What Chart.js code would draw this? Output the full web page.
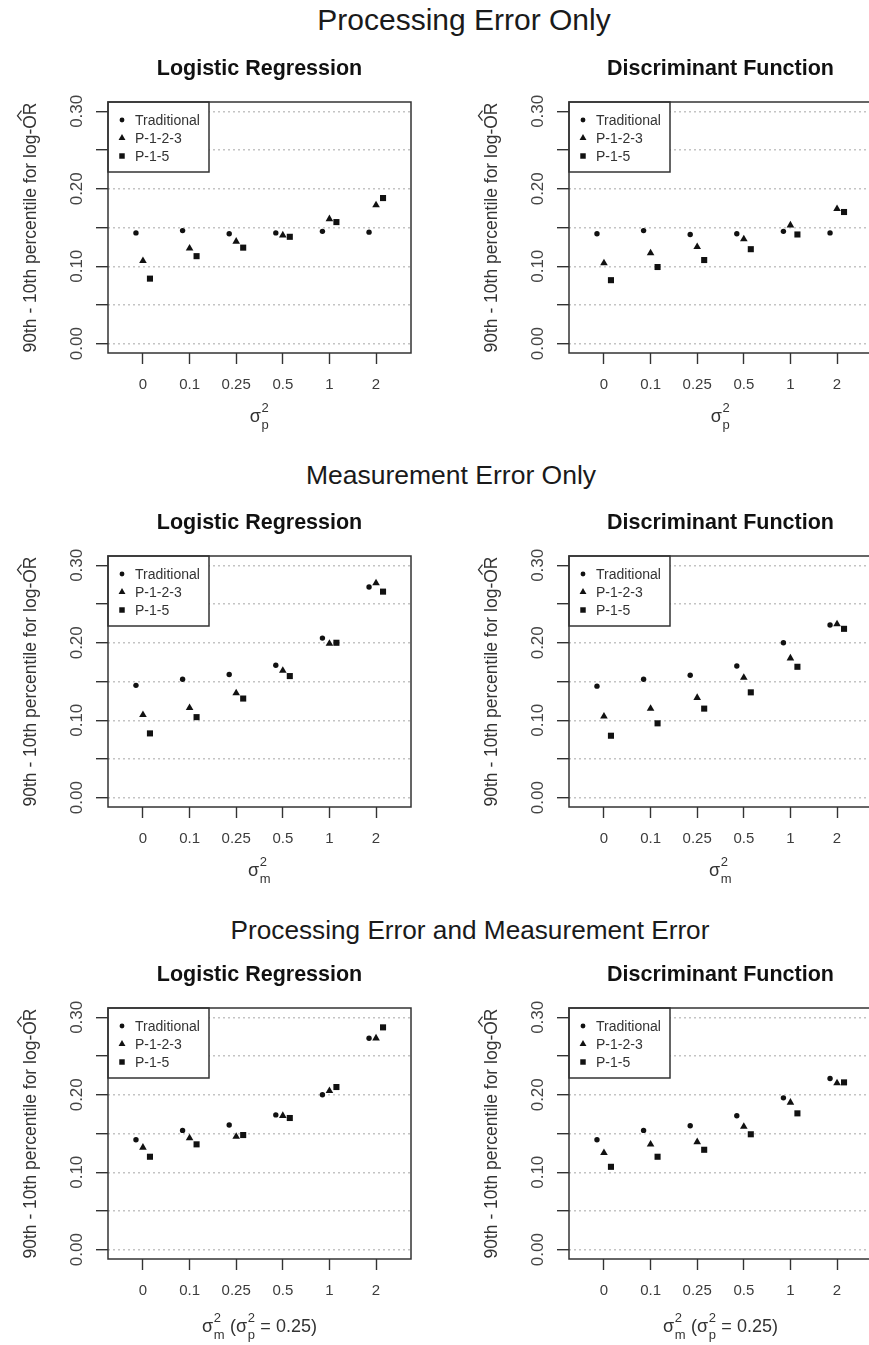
<!DOCTYPE html>
<html>
<head>
<meta charset="utf-8">
<script src="https://cdn.jsdelivr.net/npm/chart.js@4/dist/chart.umd.min.js"></script>
<style>
    html, body {margin: 0; padding: 0; background: #fff;}
    body {width: 869px; height: 1345px; overflow: hidden; position: relative;
        font-family: "Liberation Sans", Arial, Helvetica, sans-serif;}
    .rowtitle {position: absolute; line-height: 1; color: #1a1a1a;
        white-space: nowrap; transform: translateX(-50%);}
    canvas {position: absolute;}
</style>
</head>
<body>
<div class="rowtitle" style="left:464px; top:5px; font-size:30px">Processing Error Only</div>
<div class="rowtitle" style="left:451px; top:462px; font-size:26.5px">Measurement Error Only</div>
<div class="rowtitle" style="left:470px; top:917px; font-size:26.2px">Processing Error and Measurement Error</div>

<script>
const categories = ['0', '0.1', '0.25', '0.5', '1', '2'];
const methods = ['Traditional', 'P-1-2-3', 'P-1-5'];
const yTicks = [0, 0.05, 0.10, 0.15, 0.20, 0.25, 0.30];
const yLabels = ['0.00', '', '0.10', '', '0.20', '', '0.30'];

// processing error only
const peLogTrad = [0.143, 0.146, 0.142, 0.143, 0.145, 0.144];
const peLogP123 = [0.107, 0.123, 0.132, 0.140, 0.161, 0.179];
const peLogP15 = [0.084, 0.113, 0.124, 0.138, 0.157, 0.188];
const peDisTrad = [0.142, 0.146, 0.141, 0.142, 0.145, 0.143];
const peDisP123 = [0.104, 0.117, 0.125, 0.135, 0.153, 0.174];
const peDisP15 = [0.082, 0.099, 0.108, 0.122, 0.141, 0.170];

// measurement error only
const meLogTrad = [0.145, 0.153, 0.159, 0.171, 0.206, 0.272];
const meLogP123 = [0.107, 0.116, 0.135, 0.164, 0.199, 0.277];
const meLogP15 = [0.083, 0.104, 0.128, 0.157, 0.200, 0.266];
const meDisTrad = [0.144, 0.153, 0.158, 0.170, 0.200, 0.223];
const meDisP123 = [0.105, 0.115, 0.129, 0.155, 0.180, 0.224];
const meDisP15 = [0.080, 0.096, 0.115, 0.136, 0.169, 0.218];

// processing + measurement error
const bothLogTrad = [0.142, 0.154, 0.161, 0.174, 0.200, 0.273];
const bothLogP123 = [0.132, 0.144, 0.146, 0.173, 0.205, 0.273];
const bothLogP15 = [0.120, 0.136, 0.148, 0.170, 0.210, 0.287];
const bothDisTrad = [0.142, 0.154, 0.160, 0.173, 0.196, 0.221];
const bothDisP123 = [0.125, 0.136, 0.139, 0.159, 0.190, 0.215];
const bothDisP15 = [0.107, 0.120, 0.129, 0.149, 0.176, 0.216];

const FONT = '"Liberation Sans", Arial, Helvetica, sans-serif';
const PAD_L = 108, PAD_T = 60, PLOT_W = 303, PLOT_H = 251, PAD_R = 20, PAD_B = 85;

const markers = [
    {style: 'circle', r: 2.7},
    {style: 'triangle', r: 4.4},
    {style: 'rect', r: 4.3}
];
const xShift = [-0.15, 0, 0.15];

const panels = [
    {left: 108, top: 102, title: 'Logistic Regression', series: [peLogTrad, peLogP123, peLogP15], xlab: 'p'},
    {left: 569, top: 102, title: 'Discriminant Function', series: [peDisTrad, peDisP123, peDisP15], xlab: 'p'},
    {left: 108, top: 556, title: 'Logistic Regression', series: [meLogTrad, meLogP123, meLogP15], xlab: 'm'},
    {left: 569, top: 556, title: 'Discriminant Function', series: [meDisTrad, meDisP123, meDisP15], xlab: 'm'},
    {left: 108, top: 1008, title: 'Logistic Regression', series: [bothLogTrad, bothLogP123, bothLogP15], xlab: 'mp'},
    {left: 569, top: 1008, title: 'Discriminant Function', series: [bothDisTrad, bothDisP123, bothDisP15], xlab: 'mp'}
];

function drawMarker(ctx, style, x, y, r) {
    ctx.beginPath();
    if (style === 'circle') {
        ctx.arc(x, y, r, 0, Math.PI * 2);
    } else if (style === 'triangle') {
        ctx.moveTo(x, y - r);
        ctx.lineTo(x + r * 0.866, y + r / 2);
        ctx.lineTo(x - r * 0.866, y + r / 2);
        ctx.closePath();
    } else {
        const h = r * Math.SQRT1_2;
        ctx.rect(x - h, y - h, 2 * h, 2 * h);
    }
    ctx.fill();
}

function xTitleRuns(kind) {
    const sig = (s) => [{t: 'σ'}, {sup: '2', sub: s}];
    if (kind === 'mp') return [...sig('m'), {t: ' ('}, ...sig('p'), {t: ' = 0.25)'}];
    return sig(kind);
}

function deco(p) {
    return {
        id: 'deco',
        afterDraw(chart) {
            const ctx = chart.ctx, a = chart.chartArea, ys = chart.scales.y;
            const cx = (a.left + a.right) / 2, cy = (a.top + a.bottom) / 2;
            ctx.save();

            // legend box
            ctx.fillStyle = '#fff';
            ctx.fillRect(a.left, a.top, 101, 70);
            ctx.strokeStyle = '#333';
            ctx.lineWidth = 1.5;
            ctx.strokeRect(a.left, a.top, 101, 70);
            ctx.font = '14px ' + FONT;
            ctx.textAlign = 'left';
            ctx.textBaseline = 'middle';
            methods.forEach((m, i) => {
                const y = a.top + 18 + i * 18;
                ctx.fillStyle = '#111';
                drawMarker(ctx, markers[i].style, a.left + 14, y, markers[i].r * 0.9);
                ctx.fillStyle = '#333';
                ctx.fillText(m, a.left + 27, y + 1);
            });

            // frame
            ctx.strokeStyle = '#333';
            ctx.lineWidth = 1.5;
            ctx.strokeRect(a.left, a.top, a.right - a.left, a.bottom - a.top);

            // y tick labels (rotated like R)
            ctx.fillStyle = '#444';
            ctx.font = '17px ' + FONT;
            ctx.textAlign = 'center';
            ctx.textBaseline = 'middle';
            yTicks.forEach((v, i) => {
                if (!yLabels[i]) return;
                ctx.save();
                ctx.translate(a.left - 31, ys.getPixelForValue(v));
                ctx.rotate(-Math.PI / 2);
                ctx.fillText(yLabels[i], 0, 0);
                ctx.restore();
            });

            // y axis title with hat over OR
            ctx.save();
            ctx.translate(a.left - 78, cy);
            ctx.rotate(-Math.PI / 2);
            ctx.font = '17.5px ' + FONT;
            ctx.fillStyle = '#333';
            ctx.textAlign = 'left';
            ctx.textBaseline = 'alphabetic';
            const pre = '90th - 10th percentile for log-';
            const full = pre + 'OR';
            const w = ctx.measureText(full).width;
            const x0 = -w / 2, base = 6;
            ctx.fillText(full, x0, base);
            const hx = x0 + ctx.measureText(pre).width + ctx.measureText('OR').width / 2;
            const capTop = base - 12.5;
            ctx.strokeStyle = '#333';
            ctx.lineWidth = 1.3;
            ctx.beginPath();
            ctx.moveTo(hx - 5, capTop - 2);
            ctx.lineTo(hx, capTop - 6);
            ctx.lineTo(hx + 5, capTop - 2);
            ctx.stroke();
            ctx.restore();

            // panel title
            ctx.font = 'bold 21.5px ' + FONT;
            ctx.fillStyle = '#111';
            ctx.textAlign = 'center';
            ctx.textBaseline = 'middle';
            ctx.fillText(p.title, cx, a.top - 33);

            // x axis title (sigma with sub/superscripts)
            const runs = xTitleRuns(p.xlab);
            const mainF = '18px ' + FONT, scrF = '13px ' + FONT;
            let total = 0;
            runs.forEach(r => {
                if (r.t) { ctx.font = mainF; r.w = ctx.measureText(r.t).width; }
                else {
                    ctx.font = scrF;
                    r.w = Math.max(ctx.measureText(r.sup).width, ctx.measureText(r.sub).width) + 1;
                }
                total += r.w;
            });
            const mb = a.bottom + (p.xlab === 'mp' ? 73 : 69);
            let x = cx - total / 2;
            ctx.textAlign = 'left';
            ctx.textBaseline = 'alphabetic';
            ctx.fillStyle = '#333';
            runs.forEach(r => {
                if (r.t) {
                    ctx.font = mainF;
                    ctx.fillText(r.t, x, mb);
                } else {
                    ctx.font = scrF;
                    ctx.fillText(r.sup, x + 0.5, mb - 10);
                    ctx.fillText(r.sub, x + 0.5, mb + 7);
                }
                x += r.w;
            });

            ctx.restore();
        }
    };
}

panels.forEach(p => {
    const canvas = document.createElement('canvas');
    canvas.width = PAD_L + PLOT_W + PAD_R;
    canvas.height = PAD_T + PLOT_H + PAD_B;
    canvas.style.left = (p.left - PAD_L) + 'px';
    canvas.style.top = (p.top - PAD_T) + 'px';
    document.body.appendChild(canvas);

    const datasets = p.series.map((vals, k) => ({
        label: methods[k],
        data: vals.map((v, i) => ({x: i + xShift[k], y: v})),
        pointStyle: markers[k].style,
        pointRadius: markers[k].r,
        backgroundColor: '#111',
        borderColor: '#111',
        borderWidth: 0
    }));

    new Chart(canvas.getContext('2d'), {
        type: 'scatter',
        data: {datasets: datasets},
        options: {
            responsive: false,
            animation: false,
            events: [],
            layout: {padding: {top: PAD_T, right: PAD_R, left: 0, bottom: 0}},
            plugins: {legend: {display: false}, tooltip: {enabled: false}},
            scales: {
                x: {
                    type: 'linear',
                    min: -0.75,
                    max: 5.75,
                    afterBuildTicks: s => { s.ticks = categories.map((c, i) => ({value: i})); },
                    afterFit: s => { s.height = PAD_B; },
                    grid: {drawOnChartArea: false, drawTicks: true, tickLength: 11,
                        color: '#333', tickColor: '#333', tickWidth: 1.4, tickBorderDash: []},
                    border: {display: false},
                    ticks: {autoSkip: false, maxRotation: 0, minRotation: 0, padding: 12,
                        color: '#3c3c3c', font: {family: FONT, size: 15},
                        callback: (v) => categories[Math.round(v)]}
                },
                y: {
                    type: 'linear',
                    min: -0.012,
                    max: 0.312,
                    afterBuildTicks: s => { s.ticks = yTicks.map(v => ({value: v})); },
                    afterFit: s => { s.width = PAD_L; },
                    grid: {color: '#c4c4c4', lineWidth: 1.4, tickLength: 12,
                        tickColor: '#333', tickWidth: 1.4, tickBorderDash: []},
                    border: {display: false, dash: [2, 3]},
                    ticks: {display: false}
                }
            }
        },
        plugins: [deco(p)]
    });
});
</script>
</body>
</html>
